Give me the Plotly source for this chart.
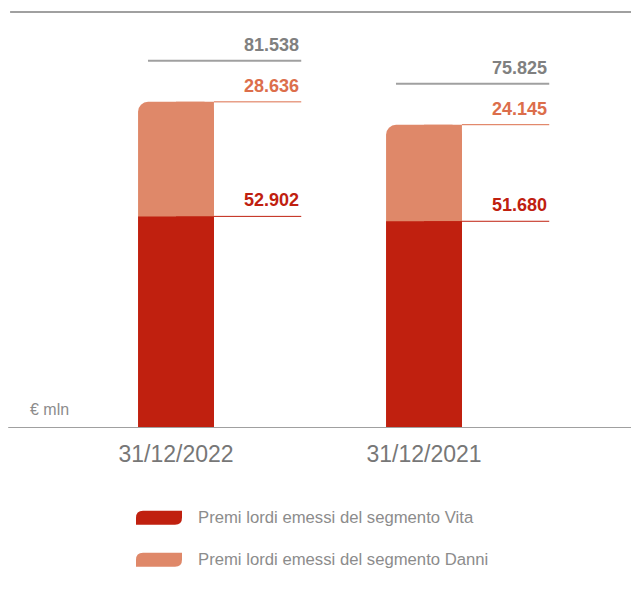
import plotly.graph_objects as go

categories = ["31/12/2022", "31/12/2021"]
vita = [52902, 51680]
danni = [28636, 24145]
totals = [81538, 75825]
vita_labels = ["52.902", "51.680"]
danni_labels = ["28.636", "24.145"]
total_labels = ["81.538", "75.825"]
series_names = ["Premi lordi emessi del segmento Vita", "Premi lordi emessi del segmento Danni"]
unit_label = "€ mln"

C_VITA = "#C0200F"
C_DANNI = "#DF8869"
C_DANNI_TXT = "#DC6E4B"
C_GREY = "#8C8C8C"
FONT = "Liberation Sans, Arial, sans-serif"

W = 0.306
xs = list(range(len(categories)))
stack_top = [v + d for v, d in zip(vita, danni)]

fig = go.Figure()
# Danni (drawn behind, from 0 to the stack top)
fig.add_trace(go.Bar(x=xs, y=stack_top, width=W, offset=-W / 2,
                     marker=dict(color=C_DANNI, cornerradius=10, line=dict(width=0)),
                     hoverinfo="skip"))
fig.add_trace(go.Bar(x=xs, y=stack_top, width=W / 2, offset=0,
                     marker=dict(color=C_DANNI, line=dict(width=0)), hoverinfo="skip"))
# Vita
fig.add_trace(go.Bar(x=xs, y=vita, width=W, offset=-W / 2,
                     marker=dict(color=C_VITA, cornerradius=10, line=dict(width=0)),
                     hoverinfo="skip"))
fig.add_trace(go.Bar(x=xs, y=vita, width=W / 2, offset=0,
                     marker=dict(color=C_VITA, line=dict(width=0)), hoverinfo="skip"))

shapes = []
annotations = []
for i in xs:
    # Vita line + label
    shapes.append(dict(type="line", xref="x", yref="y", x0=i + W / 2, x1=i + 0.505,
                       y0=vita[i], y1=vita[i], line=dict(color=C_VITA, width=1)))
    annotations.append(dict(x=i + 0.505, y=vita[i], xref="x", yref="y", xanchor="right",
                            yanchor="bottom", yshift=4, showarrow=False, text=vita_labels[i],
                            font=dict(family=FONT, size=18, color=C_VITA, weight="bold")))
    # Danni line + label
    shapes.append(dict(type="line", xref="x", yref="y", x0=i + W / 2, x1=i + 0.505,
                       y0=stack_top[i], y1=stack_top[i], line=dict(color=C_DANNI_TXT, width=1)))
    annotations.append(dict(x=i + 0.505, y=stack_top[i], xref="x", yref="y", xanchor="right",
                            yanchor="bottom", yshift=4, showarrow=False, text=danni_labels[i],
                            font=dict(family=FONT, size=18, color=C_DANNI_TXT, weight="bold")))
    # Total line + label (offset above the stack)
    shapes.append(dict(type="line", xref="x", yref="y", x0=i - 0.113, x1=i + 0.505,
                       ysizemode="pixel", yanchor=totals[i], y0=41, y1=41,
                       line=dict(color="#A0A0A0", width=2)))
    annotations.append(dict(x=i + 0.505, y=totals[i], xref="x", yref="y", xanchor="right",
                            yanchor="bottom", yshift=45, showarrow=False, text=total_labels[i],
                            font=dict(family=FONT, size=18, color="#808080", weight="bold")))

# top and base rules
shapes.append(dict(type="line", xref="paper", yref="paper", x0=0.016, x1=1, y0=1, y1=1,
                   line=dict(color="#A0A0A0", width=2)))
shapes.append(dict(type="line", xref="paper", yref="y", x0=0.013, x1=1, y0=0, y1=0,
                   line=dict(color="#A0A0A0", width=2)))

annotations.append(dict(x=28 / 631, y=0, xref="paper", yref="y", xanchor="left", yanchor="bottom",
                        yshift=8, showarrow=False, text=unit_label,
                        font=dict(family=FONT, size=16, color=C_GREY)))

# custom legend
leg_colors = [C_VITA, C_DANNI]
leg_y = [-0.216, -0.317]
swatch = "M 0,-7 L 39,-7 Q 46,-7 46,0 L 46,7 L 7,7 Q 0,7 0,0 Z"
for name, col, ly in zip(series_names, leg_colors, leg_y):
    shapes.append(dict(type="path", xref="paper", yref="paper", xsizemode="pixel",
                       ysizemode="pixel", xanchor=136 / 631, yanchor=ly, path=swatch,
                       fillcolor=col, line=dict(width=0)))
    annotations.append(dict(x=196 / 631, y=ly, xref="paper", yref="paper", xanchor="left",
                            yanchor="middle", showarrow=False, text=name,
                            font=dict(family=FONT, size=16.7, color=C_GREY)))

fig.update_layout(
    width=631, height=596,
    margin=dict(l=0, r=0, t=12, b=168),
    barmode="overlay",
    showlegend=False,
    plot_bgcolor="white", paper_bgcolor="white",
    shapes=shapes, annotations=annotations,
    xaxis=dict(range=[-176 / 248, 1 + 207 / 248], tickvals=xs, ticktext=categories,
               showgrid=False, zeroline=False, showline=False, ticks="",
               ticklabelstandoff=10,
               tickfont=dict(family=FONT, size=23, color="#777777"), fixedrange=True),
    yaxis=dict(range=[0, 104000], visible=False, showgrid=False, zeroline=False, fixedrange=True),
)

fig.write_html("out.html")
